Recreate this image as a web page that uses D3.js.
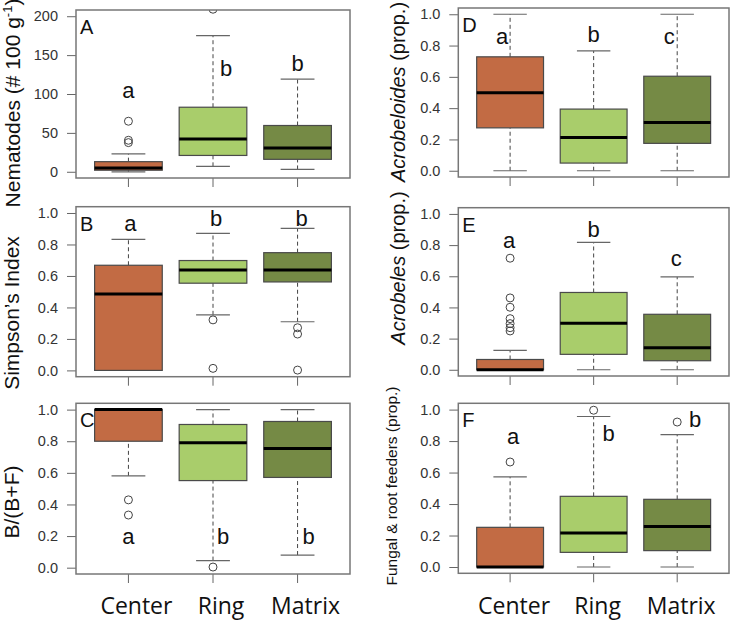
<!DOCTYPE html>
<html lang="en">
<head>
<meta charset="utf-8">
<title>Nematode boxplots</title>
<script src="https://d3js.org/d3.v7.min.js"></script>
<style>
  body { margin: 0; background: #fff; }
  svg { display: block; font-family: "Liberation Sans", Arial, sans-serif; }
</style>
</head>
<body>
<svg id="chart" width="733" height="621"></svg>
<script>
// groups along the x axis
const groups = ["Center", "Ring", "Matrix"];

// tick values
const countTicks = [0, 50, 100, 150, 200];
const propTicks = [0, 0.2, 0.4, 0.6, 0.8, 1.0];

// each box: [lower whisker, Q1, median, Q3, upper whisker]
const nematodeBoxes = [[0, 2, 5, 13, 23], [7, 21, 42, 83, 175], [3, 16, 30.5, 59.5, 119]];
const nematodeOutliers = [[65, 40.5, 37.5], [209], []];
const nematodeLetters = ["a", "b", "b"];
const nematodeLetterY = [95, 123, 130];

const simpsonBoxes = [[0, 0, 0.486, 0.668, 0.833], [0.353, 0.554, 0.638, 0.698, 0.871], [0.309, 0.562, 0.638, 0.748, 0.902]];
const simpsonOutliers = [[], [0.321, 0.013], [0.271, 0.231, 0.002]];
const simpsonLetters = ["a", "b", "b"];
const simpsonLetterY = [0.888, 0.919, 0.919];

const bfBoxes = [[0.581, 0.8, 1.0, 1.0, 1.0], [0.045, 0.551, 0.79, 0.906, 1.0], [0.08, 0.571, 0.754, 0.925, 1.0]];
const bfOutliers = [[0.429, 0.333], [0.004], []];
const bfLetters = ["a", "b", "b"];
const bfLetterY = [0.148, 0.148, 0.148];

const acrobeloidesBoxes = [[0, 0.274, 0.499, 0.728, 1.0], [0, 0.049, 0.212, 0.394, 0.766], [0, 0.175, 0.308, 0.604, 1.0]];
const acrobeloidesOutliers = [[], [], []];
const acrobeloidesLetters = ["a", "b", "c"];
const acrobeloidesLetterY = [0.809, 0.82, 0.809];

const acrobelesBoxes = [[0, 0, 0, 0.066, 0.124], [0, 0.099, 0.298, 0.496, 0.818], [0, 0.058, 0.142, 0.356, 0.596]];
const acrobelesOutliers = [[0.716, 0.461, 0.401, 0.328, 0.296, 0.27, 0.249], [], []];
const acrobelesLetters = ["a", "b", "c"];
const acrobelesLetterY = [0.779, 0.85, 0.665];

const feederBoxes = [[0, 0, 0, 0.252, 0.572], [0, 0.093, 0.216, 0.449, 0.956], [0, 0.104, 0.258, 0.43, 0.841]];
const feederOutliers = [[0.667], [0.996], [0.921]];
const feederLetters = ["a", "b", "b"];
const feederLetterY = [0.782, 0.803, 0.89];

const fills = ["#c26b44", "#a9cd6b", "#758a45"];

const panels = [
  {tag: "A", boxes: nematodeBoxes, outliers: nematodeOutliers, letters: nematodeLetters, letterY: nematodeLetterY,
   ticks: countTicks, fmt: d3.format("d"), domain: [-8, 208],
   frame: [76, 350, 10, 178], letterDx: [0, 13, 0],
   title: "nematodes", titleX: 20, titleY: 103},
  {tag: "B", boxes: simpsonBoxes, outliers: simpsonOutliers, letters: simpsonLetters, letterY: simpsonLetterY,
   ticks: propTicks, fmt: d3.format(".1f"), domain: [-0.04, 1.04],
   frame: [76, 350, 206.7, 376.7], letterDx: [2, 3, 4],
   title: "Simpson\u2019s Index", titleX: 19, titleY: 313},
  {tag: "C", boxes: bfBoxes, outliers: bfOutliers, letters: bfLetters, letterY: bfLetterY,
   ticks: propTicks, fmt: d3.format(".1f"), domain: [-0.04, 1.04],
   frame: [76, 350, 403.3, 574], letterDx: [0, 10, 11],
   title: "B/(B+F)", titleX: 19, titleY: 502},
  {tag: "D", boxes: acrobeloidesBoxes, outliers: acrobeloidesOutliers, letters: acrobeloidesLetters, letterY: acrobeloidesLetterY,
   ticks: propTicks, fmt: d3.format(".1f"), domain: [-0.04, 1.04],
   frame: [458.3, 729, 8, 177], letterDx: [-8, 0, -8],
   title: "Acrobeloides", titleX: 405, titleY: 92},
  {tag: "E", boxes: acrobelesBoxes, outliers: acrobelesOutliers, letters: acrobelesLetters, letterY: acrobelesLetterY,
   ticks: propTicks, fmt: d3.format(".1f"), domain: [-0.04, 1.04],
   frame: [458.3, 729, 207.7, 376], letterDx: [-1, 0, -1],
   title: "Acrobeles", titleX: 405, titleY: 268},
  {tag: "F", boxes: feederBoxes, outliers: feederOutliers, letters: feederLetters, letterY: feederLetterY,
   ticks: propTicks, fmt: d3.format(".1f"), domain: [-0.04, 1.04],
   frame: [458.3, 729, 403.3, 573.3], letterDx: [3, 15, 18],
   title: "Fungal & root feeders (prop.)", titleX: 397, titleY: 486, titleSize: 15.5}
];

const svg = d3.select("#chart");

panels.forEach((p, pi) => {
  const [x0, x1, y0, y1] = p.frame;
  const x = d3.scaleLinear().domain([0.38, 3.62]).range([x0, x1]);
  const y = d3.scaleLinear().domain(p.domain).range([y1, y0]);
  const half = 0.4 * (x(2) - x(1));
  const g = svg.append("g");

  svg.append("clipPath").attr("id", "clip" + pi)
    .append("rect").attr("x", x0).attr("y", y0).attr("width", x1 - x0).attr("height", y1 - y0);

  // y axis
  const yAxis = g.append("g")
    .attr("transform", `translate(${x0},0)`)
    .call(d3.axisLeft(y).tickValues(p.ticks).tickFormat(p.fmt).tickSize(9).tickPadding(9));
  yAxis.select(".domain").remove();
  yAxis.selectAll("line").attr("stroke", "#666");
  yAxis.selectAll("text").attr("fill", "#333").style("font-size", "14.5px")
    .style("font-family", "Liberation Sans, Arial, sans-serif");

  // x ticks
  g.selectAll("line.xtick").data(groups).join("line")
    .attr("x1", (d, i) => x(i + 1)).attr("x2", (d, i) => x(i + 1))
    .attr("y1", y1).attr("y2", y1 + 9)
    .attr("stroke", "#666");

  const box = g.selectAll("g.box").data(p.boxes).join("g").attr("class", "box");

  // whiskers
  box.append("line")
    .attr("x1", (d, i) => x(i + 1)).attr("x2", (d, i) => x(i + 1))
    .attr("y1", d => y(d[0])).attr("y2", d => y(d[1]))
    .attr("stroke", "#444").attr("stroke-dasharray", "4,3");
  box.append("line")
    .attr("x1", (d, i) => x(i + 1)).attr("x2", (d, i) => x(i + 1))
    .attr("y1", d => y(d[3])).attr("y2", d => y(d[4]))
    .attr("stroke", "#444").attr("stroke-dasharray", "4,3");
  // staples
  [0, 4].forEach(k => {
    box.append("line")
      .attr("x1", (d, i) => x(i + 1) - half / 2).attr("x2", (d, i) => x(i + 1) + half / 2)
      .attr("y1", d => y(d[k])).attr("y2", d => y(d[k]))
      .attr("stroke", "#666").attr("stroke-width", 1.2);
  });
  // boxes
  box.append("rect")
    .attr("x", (d, i) => x(i + 1) - half).attr("width", 2 * half)
    .attr("y", d => y(d[3])).attr("height", d => y(d[1]) - y(d[3]))
    .attr("fill", (d, i) => fills[i]).attr("stroke", "#4a4a4a").attr("stroke-width", 1.2);
  // medians
  box.append("line")
    .attr("x1", (d, i) => x(i + 1) - half).attr("x2", (d, i) => x(i + 1) + half)
    .attr("y1", d => y(d[2])).attr("y2", d => y(d[2]))
    .attr("stroke", "#000").attr("stroke-width", 3);

  // outliers
  const pts = p.outliers.flatMap((arr, i) => arr.map(v => ({i, v})));
  g.append("g").attr("clip-path", `url(#clip${pi})`)
    .selectAll("circle").data(pts).join("circle")
    .attr("cx", d => x(d.i + 1)).attr("cy", d => y(d.v)).attr("r", 4)
    .attr("fill", "none").attr("stroke", "#444").attr("stroke-width", 1);

  // frame
  g.append("rect")
    .attr("x", x0).attr("y", y0).attr("width", x1 - x0).attr("height", y1 - y0)
    .attr("fill", "none").attr("stroke", "#777").attr("stroke-width", 1.5);

  // significance letters
  g.selectAll("text.sig").data(p.letters).join("text")
    .attr("x", (d, i) => x(i + 1) + p.letterDx[i]).attr("y", (d, i) => y(p.letterY[i]))
    .attr("text-anchor", "middle").style("font-size", "22px").attr("fill", "#111")
    .text(d => d);

  // panel tag
  g.append("text")
    .attr("x", x0 + 4).attr("y", y0 + 24)
    .style("font-size", "20px").attr("fill", "#111")
    .text(p.tag);

  // y title
  const t = svg.append("text")
    .attr("transform", `translate(${p.titleX},${p.titleY}) rotate(-90)`)
    .attr("text-anchor", "middle")
    .style("font-size", (p.titleSize || (x0 < 200 ? 21 : 20)) + "px")
    .attr("fill", "#111");
  if (p.title === "nematodes") {
    t.append("tspan").text("Nematodes (# 100 g");
    t.append("tspan").attr("dy", -8).style("font-size", "13px").text("-1");
    t.append("tspan").attr("dy", 8).text(")");
  } else if (p.title === "Acrobeloides" || p.title === "Acrobeles") {
    t.append("tspan").style("font-style", "italic").text(p.title);
    t.append("tspan").text(" (prop.)");
  } else {
    t.text(p.title);
  }

  // group labels under the bottom panels
  if (p.tag === "C" || p.tag === "F") {
    const dx = p.tag === "C" ? 8 : 4;
    svg.selectAll("text.grp" + p.tag).data(groups).join("text")
      .attr("x", (d, i) => x(i + 1) + dx).attr("y", 614)
      .attr("text-anchor", "middle")
      .style("font-family", "Open Sans, Liberation Sans, sans-serif")
      .style("font-size", "23px").attr("fill", "#111")
      .text(d => d);
  }
});
</script>
</body>
</html>
